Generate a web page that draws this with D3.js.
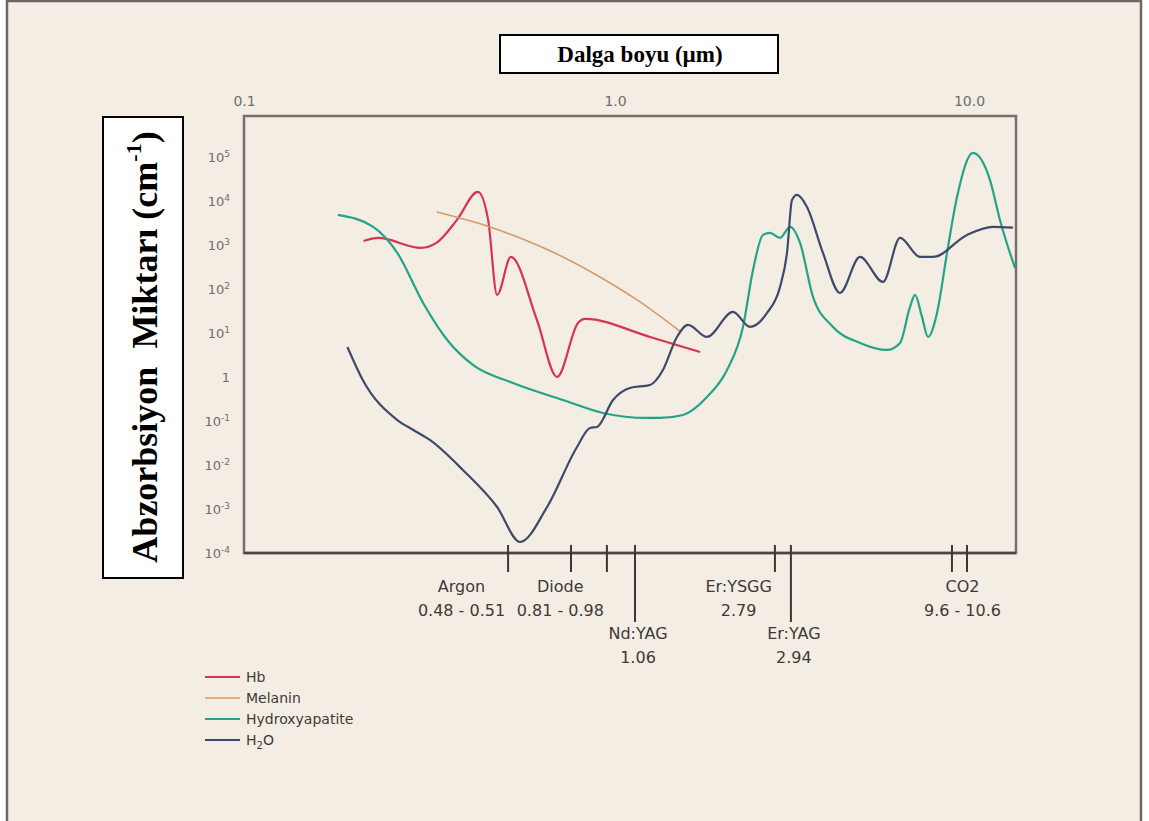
<!DOCTYPE html>
<html lang="tr">

<head>
    <meta charset="utf-8">
    <title>Abzorbsiyon</title>
    <script type="text/javascript" src="https://cdnjs.cloudflare.com/ajax/libs/d3/7.8.5/d3.min.js"></script>
    <style>
        body {
            margin: 0;
            background: #ffffff;
        }

        svg {
            display: block;
        }
    </style>
</head>

<body>
    <script type="text/javascript">
        //Width and height
        var w = 1149;
        var h = 821;

        // Data: [wavelength (um), absorption (1/cm)] ----------------
        var hb = [[0.21, 1230], [0.23, 1440], [0.30, 855], [0.33, 1110], [0.375, 3700], [0.427, 16000],
            [0.455, 3700], [0.481, 73], [0.524, 534], [0.616, 19.7], [0.698, 1.0], [0.795, 16.9],
            [0.83, 20.8], [1.256, 8.1], [1.739, 3.7]];

        var melanin = [[0.331, 5600], [0.452, 2700], [0.555, 1440], [0.724, 534], [0.911, 187],
            [1.177, 50.7], [1.536, 10.5]];

        var hydroxyapatite = [[0.179, 4810], [0.223, 2570], [0.259, 658], [0.304, 48], [0.353, 6.9],
            [0.414, 1.87], [0.531, 0.73], [0.724, 0.30], [0.928, 0.152], [1.231, 0.117], [1.34, 0.117],
            [1.556, 0.137], [1.819, 0.35], [2.072, 1.44], [2.299, 13.7], [2.454, 270], [2.619, 1690],
            [2.741, 1870], [2.925, 1440], [3.122, 2570], [3.332, 1110], [3.625, 65.8], [4.129, 13.7],
            [4.921, 5.93], [5.866, 4.11], [6.385, 5.93], [6.813, 39], [7.04, 73], [7.366, 23.1],
            [7.659, 8.1], [8.122, 28.5], [8.668, 658], [9.25, 12300], [10.26, 123000], [11.46, 30000],
            [12.23, 3700], [13.49, 300]];

        var h2o = [[0.19, 4.8], [0.209, 0.855], [0.259, 0.105], [0.286, 0.0624], [0.317, 0.037],
            [0.389, 0.00769], [0.481, 0.00111], [0.555, 0.000178], [0.656, 0.00111], [0.79, 0.0256],
            [0.856, 0.0693], [0.894, 0.0731], [0.988, 0.30], [1.102, 0.562], [1.256, 0.658], [1.366, 1.44],
            [1.496, 8.1], [1.608, 15.2], [1.819, 8.1], [2.154, 30], [2.406, 13.7], [2.688, 28.5],
            [2.925, 111], [3.061, 658], [3.162, 10500], [3.267, 13700], [3.486, 7300], [3.868, 658],
            [4.321, 81], [4.921, 534], [5.715, 144], [6.385, 1440], [7.27, 534], [7.91, 534],
            [9.87, 1690], [11.69, 2570], [13.31, 2460]];

        var seriesNames = ["Hb", "Melanin", "Hydroxyapatite", "H2O"];
        var seriesData = [hb, melanin, hydroxyapatite, h2o];

        // Axis ticks
        var xTicks = [0.1, 1, 10];
        var xTickLabels = ["0.1", "1.0", "10.0"];
        var yTicks = [1e-4, 1e-3, 1e-2, 1e-1, 1, 1e1, 1e2, 1e3, 1e4, 1e5];
        var yTickExp = ["-4", "-3", "-2", "-1", "", "1", "2", "3", "4", "5"];

        // Laser lines under the axis
        var laserNames = ["Argon", "Diode", "Nd:YAG", "Er:YSGG", "Er:YAG", "CO2"];
        var laserRanges = ["0.48 - 0.51", "0.81 - 0.98", "1.06", "2.79", "2.94", "9.6 - 10.6"];
        var laserTicks = [[0.515], [0.761, 0.951], [1.139], [2.83], [3.14], [8.95, 9.87]];

        var titleText = "Dalga boyu (\u00b5m)";

        // Look --------------------------------------------------
        var colors = ["#d8344f", "#d79b68", "#23a488", "#3e4a6a"];
        var widths = [2.2, 1.6, 2.2, 2.2];
        var longLines = ["Nd:YAG", "Er:YAG"];
        var endAligned = ["Argon", "Diode", "Er:YSGG"];

        var margin = { left: 244, top: 116 };
        var pw = 772;
        var ph = 437;

        // Scales ------------------------------------------------
        var xScale = d3.scaleLog()
            .domain([0.1, 1, 10, 13.58])
            .range([0, 371, 725, pw]);

        var yScale = d3.scaleLog()
            .domain([1e-4, 8.5e5])
            .range([ph, 0]);

        var svg = d3.select("body")
            .append("svg")
            .attr("width", w)
            .attr("height", h);

        // page background and its frame
        svg.append("rect")
            .attr("x", 7).attr("y", 1)
            .attr("width", 1134).attr("height", h + 10)
            .attr("fill", "#f4ede3")
            .attr("stroke", "#6a6866")
            .attr("stroke-width", 2.5);

        // Title box
        svg.append("rect")
            .attr("x", 500).attr("y", 35)
            .attr("width", 278).attr("height", 38)
            .attr("fill", "#ffffff")
            .attr("stroke", "#000")
            .attr("stroke-width", 2);

        svg.append("text")
            .attr("x", 640).attr("y", 62)
            .attr("text-anchor", "middle")
            .attr("font-family", "'Liberation Serif', 'Times New Roman', serif")
            .attr("font-weight", "bold")
            .attr("font-size", "23px")
            .text(titleText);

        // Y label box
        svg.append("rect")
            .attr("x", 103).attr("y", 117)
            .attr("width", 80).attr("height", 461)
            .attr("fill", "#ffffff")
            .attr("stroke", "#000")
            .attr("stroke-width", 2);

        var ylab = svg.append("text")
            .attr("transform", "translate(157,347) rotate(-90)")
            .attr("text-anchor", "middle")
            .attr("font-family", "'Liberation Serif', 'Times New Roman', serif")
            .attr("font-weight", "bold")
            .attr("font-size", "36px");
        ylab.append("tspan").text("Abzorbsiyon\u00a0 Miktar\u0131 (cm");
        ylab.append("tspan").attr("font-size", "22px").attr("dy", -16).text("-1");
        ylab.append("tspan").attr("dy", 16).text(")");

        var g = svg.append("g")
            .attr("transform", "translate(" + margin.left + "," + margin.top + ")");

        // Top axis labels
        var xAxis = d3.axisTop(xScale)
            .tickValues(xTicks)
            .tickSize(0)
            .tickPadding(10)
            .tickFormat(function(d, i) {
                return xTickLabels[i];
            });

        var gx = g.append("g").call(xAxis);
        gx.select(".domain").remove();
        gx.selectAll("text")
            .attr("font-family", "'DejaVu Sans', sans-serif")
            .attr("font-size", "14px")
            .attr("fill", "#6e6e6e");

        // Left axis labels, with superscripts
        var yAxis = d3.axisLeft(yScale)
            .tickValues(yTicks)
            .tickSize(0)
            .tickPadding(14)
            .tickFormat(function() {
                return "";
            });

        var gy = g.append("g").call(yAxis);
        gy.select(".domain").remove();
        gy.selectAll(".tick text")
            .attr("font-family", "'DejaVu Sans', sans-serif")
            .attr("font-size", "13px")
            .attr("fill", "#6e6e6e")
            .each(function(d, i) {
                var t = d3.select(this);
                if (yTickExp[i] === "") {
                    t.append("tspan").text("1");
                } else {
                    t.append("tspan").text("10");
                    t.append("tspan")
                        .attr("font-size", "9px")
                        .attr("dy", -5)
                        .text(yTickExp[i]);
                }
            });

        // Plot frame
        g.append("rect")
            .attr("width", pw)
            .attr("height", ph)
            .attr("fill", "none")
            .attr("stroke", "#74706c")
            .attr("stroke-width", 2.5);

        g.append("line")
            .attr("x1", 0).attr("x2", pw)
            .attr("y1", ph).attr("y2", ph)
            .attr("stroke", "#4a4643")
            .attr("stroke-width", 2.5);

        // Curves
        var line = d3.line()
            .x(function(d) {
                return xScale(d[0]);
            })
            .y(function(d) {
                return yScale(d[1]);
            })
            .curve(d3.curveMonotoneX);

        g.selectAll("path.series")
            .data(seriesData)
            .enter()
            .append("path")
            .attr("class", "series")
            .attr("d", line)
            .attr("fill", "none")
            .attr("stroke", function(d, i) {
                return colors[i];
            })
            .attr("stroke-width", function(d, i) {
                return widths[i];
            })
            .attr("stroke-linejoin", "round");

        // Laser markers
        var lasers = g.selectAll("g.laser")
            .data(laserNames)
            .enter()
            .append("g")
            .attr("class", "laser");

        lasers.each(function(name, i) {
            var gl = d3.select(this);
            var isLong = longLines.indexOf(name) >= 0;
            laserTicks[i].forEach(function(v) {
                gl.append("line")
                    .attr("x1", xScale(v)).attr("x2", xScale(v))
                    .attr("y1", ph - 8)
                    .attr("y2", isLong ? ph + 69 : ph + 19)
                    .attr("stroke", "#3b3734")
                    .attr("stroke-width", 2);
            });

            var base = isLong ? ph + 86 : ph + 39;
            var t1 = gl.append("text")
                .attr("y", base)
                .text(name);
            var t2 = gl.append("text")
                .attr("y", base + 24)
                .text(laserRanges[i]);
            gl.selectAll("text")
                .attr("text-anchor", "middle")
                .attr("font-family", "'DejaVu Sans', sans-serif")
                .attr("font-size", "16px")
                .attr("fill", "#3d3a38");

            var ticksPx = laserTicks[i].map(function(v) {
                return xScale(v);
            });
            var cx;
            if (endAligned.indexOf(name) >= 0) {
                var bw = Math.max(t1.node().getComputedTextLength(), t2.node().getComputedTextLength());
                cx = d3.max(ticksPx) - 3 - bw / 2;
            } else {
                cx = d3.mean(ticksPx) + 3;
            }
            gl.selectAll("text").attr("x", cx);
        });

        // Legend
        var legend = svg.selectAll("g.legend")
            .data(seriesNames)
            .enter()
            .append("g")
            .attr("class", "legend")
            .attr("transform", function(d, i) {
                return "translate(205," + (677 + i * 21) + ")";
            });

        legend.append("line")
            .attr("x1", 0).attr("x2", 35)
            .attr("stroke", function(d, i) {
                return colors[i];
            })
            .attr("stroke-width", function(d, i) {
                return widths[i];
            });

        legend.append("text")
            .attr("x", 41)
            .attr("y", 5)
            .attr("font-family", "'DejaVu Sans', sans-serif")
            .attr("font-size", "14px")
            .attr("fill", "#3d3a38")
            .each(function(d) {
                var t = d3.select(this);
                if (d === "H2O") {
                    t.append("tspan").text("H");
                    t.append("tspan").attr("font-size", "10px").attr("dy", 4).text("2");
                    t.append("tspan").attr("dy", -4).text("O");
                } else {
                    t.text(d);
                }
            });
    </script>

</body>

</html>
